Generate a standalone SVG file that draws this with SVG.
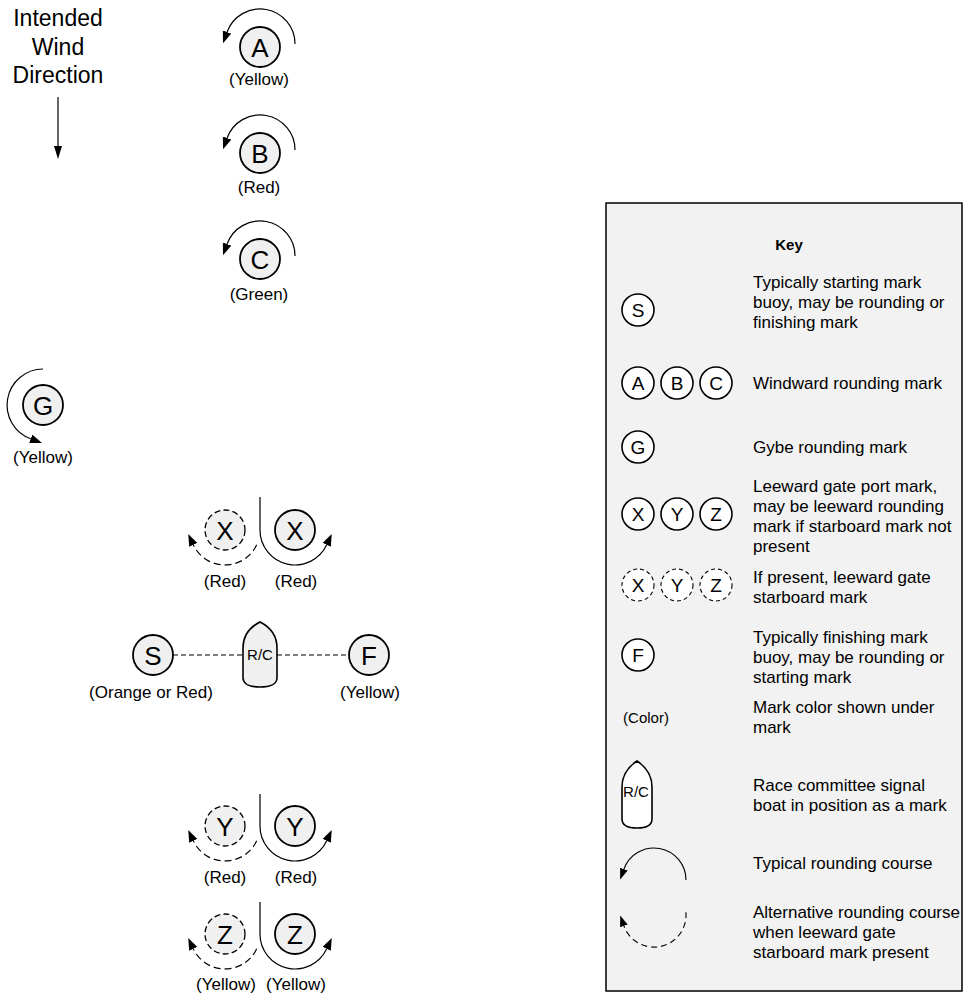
<svg xmlns="http://www.w3.org/2000/svg" width="964" height="994" viewBox="0 0 964 994">
<style>
text{font-family:"Liberation Sans",Arial,Helvetica,sans-serif;fill:#000}
.lbl{font-size:17px;text-anchor:middle}
.big{font-size:26px;text-anchor:middle}
.kl{font-size:19px;text-anchor:middle}
.kt{font-size:17px}
.mk{fill:#f0f0f0;stroke:#000;stroke-width:1.8}
.mkd{fill:#f0f0f0;stroke:#000;stroke-width:1.3;stroke-dasharray:6 3.2}
.kc{fill:#fff;stroke:#000;stroke-width:1.6}
.kcd{fill:#fff;stroke:#000;stroke-width:1.1;stroke-dasharray:4 3}
.arc{fill:none;stroke:#000;stroke-width:1.2;marker-end:url(#ah)}
.arcd{fill:none;stroke:#000;stroke-width:1.2;stroke-dasharray:7 4;marker-end:url(#ah)}
.karc{fill:none;stroke:#000;stroke-width:1.1;marker-end:url(#ahk)}
.karcd{fill:none;stroke:#000;stroke-width:1.1;stroke-dasharray:6 4;marker-end:url(#ahk)}
.div{fill:none;stroke:#000;stroke-width:1.2}
.boat{fill:#f0f0f0;stroke:#000;stroke-width:1.6}
.kboat{fill:#fff;stroke:#000;stroke-width:1.6}
.line{fill:none;stroke:#000;stroke-width:1.1;stroke-dasharray:5 3}
</style>
<defs>
<marker id="ah" markerUnits="userSpaceOnUse" markerWidth="13" markerHeight="10" refX="0" refY="4.5" orient="auto"><path d="M0,0 L12,4.5 L0,9 Z" fill="#000"/></marker>
<marker id="ahk" markerUnits="userSpaceOnUse" markerWidth="12" markerHeight="9" refX="0" refY="4" orient="auto"><path d="M0,0 L11,4 L0,8 Z" fill="#000"/></marker>
</defs>

<g id="wind">
<text class="lbl" x="58" y="26" style="font-size:23px">Intended</text>
<text class="lbl" x="58" y="55" style="font-size:23px">Wind</text>
<text class="lbl" x="58" y="83" style="font-size:23px">Direction</text>
<line x1="58" y1="97" x2="58" y2="147" stroke="#000" stroke-width="1.2"/>
<path d="M54,146 L62,146 L58,159 Z" fill="#000"/>
</g>

<g id="markA">
<path class="arc" d="M295,44 A35,35 0 0 0 227.1,32.0"/>
<circle class="mk" cx="260" cy="47" r="20"/>
<text class="big" x="260" y="56.5">A</text>
<text class="lbl" x="259" y="85">(Yellow)</text>
</g>
<g id="markB">
<path class="arc" d="M295,150 A35,35 0 0 0 227.1,138.0"/>
<circle class="mk" cx="260" cy="153" r="20"/>
<text class="big" x="260" y="162.5">B</text>
<text class="lbl" x="259" y="193">(Red)</text>
</g>
<g id="markC">
<path class="arc" d="M295,256 A35,35 0 0 0 227.1,244.0"/>
<circle class="mk" cx="260" cy="259" r="20"/>
<text class="big" x="260" y="268.5">C</text>
<text class="lbl" x="259" y="300">(Green)</text>
</g>

<g id="markG">
<path class="arc" d="M43,369 A36,36 0 0 0 30.7,438.8"/>
<circle class="mk" cx="43" cy="405" r="20"/>
<text class="big" x="43" y="414.5">G</text>
<text class="lbl" x="43" y="463">(Yellow)</text>
</g>

<g id="gateX">
<path class="div" d="M260,497 L260,530 A35,35 0 0 0 326.7,544.8" marker-end="url(#ah)"/>
<path class="arcd" d="M256.7,544.8 A35,35 0 0 1 193.3,544.8"/>
<circle class="mkd" cx="225" cy="530" r="20"/>
<text class="big" x="225" y="539.5">X</text>
<circle class="mk" cx="295" cy="530" r="20"/>
<text class="big" x="295" y="539.5">X</text>
<text class="lbl" x="225" y="587">(Red)</text>
<text class="lbl" x="296" y="587">(Red)</text>
</g>

<g id="connectors">
<line class="line" x1="173" y1="655" x2="243" y2="655"/>
<line class="line" x1="277" y1="655" x2="349" y2="655"/>
</g>

<g id="markS">
<circle class="mk" cx="153" cy="655" r="20"/>
<text class="big" x="153" y="664.5">S</text>
<text class="lbl" x="151" y="698">(Orange or Red)</text>
</g>
<g id="rcboat">
<path class="boat" d="M243,648 C243,635 250,627 260,622 C270,627 277,635 277,648 L277,678 C277,684 270,687 260,687 C250,687 243,684 243,678 Z"/>
<text x="260" y="660" style="font-size:15px;text-anchor:middle">R/C</text>
</g>
<g id="markF">
<circle class="mk" cx="369" cy="655" r="20"/>
<text class="big" x="369" y="664.5">F</text>
<text class="lbl" x="370" y="698">(Yellow)</text>
</g>

<g id="gateY">
<path class="div" d="M260,794 L260,826 A35,35 0 0 0 326.7,840.8" marker-end="url(#ah)"/>
<path class="arcd" d="M256.7,840.8 A35,35 0 0 1 193.3,840.8"/>
<circle class="mkd" cx="225" cy="826" r="20"/>
<text class="big" x="225" y="835.5">Y</text>
<circle class="mk" cx="295" cy="826" r="20"/>
<text class="big" x="295" y="835.5">Y</text>
<text class="lbl" x="225" y="883">(Red)</text>
<text class="lbl" x="296" y="883">(Red)</text>
</g>

<g id="gateZ">
<path class="div" d="M260,902 L260,934 A35,35 0 0 0 326.7,948.8" marker-end="url(#ah)"/>
<path class="arcd" d="M256.7,948.8 A35,35 0 0 1 193.3,948.8"/>
<circle class="mkd" cx="225" cy="934" r="20"/>
<text class="big" x="225" y="943.5">Z</text>
<circle class="mk" cx="295" cy="934" r="20"/>
<text class="big" x="295" y="943.5">Z</text>
<text class="lbl" x="226" y="990">(Yellow)</text>
<text class="lbl" x="296" y="990">(Yellow)</text>
</g>

<g id="key">
<rect x="606" y="203" width="356" height="788" fill="#f2f2f2" stroke="#000" stroke-width="1.5"/>
<text x="789" y="250" style="font-size:15px;font-weight:bold;text-anchor:middle">Key</text>

<circle class="kc" cx="638" cy="310" r="16"/><text class="kl" x="638" y="317">S</text>
<text class="kt" x="753" y="288">Typically starting mark</text>
<text class="kt" x="753" y="308">buoy, may be rounding or</text>
<text class="kt" x="753" y="328">finishing mark</text>

<circle class="kc" cx="638" cy="383" r="16"/><text class="kl" x="638" y="390">A</text>
<circle class="kc" cx="677" cy="383" r="16"/><text class="kl" x="677" y="390">B</text>
<circle class="kc" cx="716" cy="383" r="16"/><text class="kl" x="716" y="390">C</text>
<text class="kt" x="753" y="389">Windward rounding mark</text>

<circle class="kc" cx="638" cy="447" r="16"/><text class="kl" x="638" y="454">G</text>
<text class="kt" x="753" y="453">Gybe rounding mark</text>

<circle class="kc" cx="638" cy="514" r="16"/><text class="kl" x="638" y="521">X</text>
<circle class="kc" cx="677" cy="514" r="16"/><text class="kl" x="677" y="521">Y</text>
<circle class="kc" cx="716" cy="514" r="16"/><text class="kl" x="716" y="521">Z</text>
<text class="kt" x="753" y="492">Leeward gate port mark,</text>
<text class="kt" x="753" y="512">may be leeward rounding</text>
<text class="kt" x="753" y="532">mark if starboard mark not</text>
<text class="kt" x="753" y="552">present</text>

<circle class="kcd" cx="638" cy="585" r="16"/><text class="kl" x="638" y="592">X</text>
<circle class="kcd" cx="677" cy="585" r="16"/><text class="kl" x="677" y="592">Y</text>
<circle class="kcd" cx="716" cy="585" r="16"/><text class="kl" x="716" y="592">Z</text>
<text class="kt" x="753" y="583">If present, leeward gate</text>
<text class="kt" x="753" y="603">starboard mark</text>

<circle class="kc" cx="638" cy="655" r="16"/><text class="kl" x="638" y="662">F</text>
<text class="kt" x="753" y="643">Typically finishing mark</text>
<text class="kt" x="753" y="663">buoy, may be rounding or</text>
<text class="kt" x="753" y="683">starting mark</text>

<text x="646" y="723" style="font-size:15px;text-anchor:middle">(Color)</text>
<text class="kt" x="753" y="713">Mark color shown under</text>
<text class="kt" x="753" y="733">mark</text>

<path class="kboat" d="M622,787 C622,775 628,767 637,761 C646,767 652,775 652,787 L652,819 C652,825 646,828 637,828 C628,828 622,825 622,819 Z"/>
<text x="636" y="797" style="font-size:15px;text-anchor:middle">R/C</text>
<text class="kt" x="753" y="791">Race committee signal</text>
<text class="kt" x="753" y="811">boat in position as a mark</text>

<path class="karc" d="M686,880 A32,32 0 0 0 623.9,869.1"/>
<text class="kt" x="753" y="869">Typical rounding course</text>

<path class="karcd" d="M685.9,912.2 A32,32 0 0 1 623.9,925.9"/>
<text class="kt" x="753" y="918">Alternative rounding course</text>
<text class="kt" x="753" y="938">when leeward gate</text>
<text class="kt" x="753" y="958">starboard mark present</text>
</g>
</svg>
